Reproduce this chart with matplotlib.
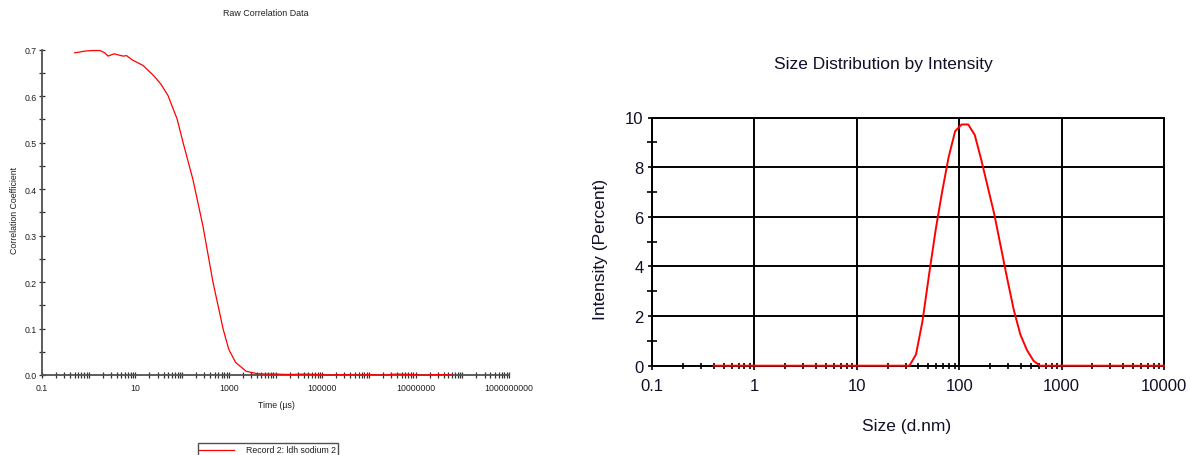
import matplotlib
matplotlib.use("Agg")
import matplotlib.pyplot as plt
from matplotlib.ticker import LogLocator, FixedLocator, MultipleLocator, NullFormatter
from matplotlib.patches import Rectangle
from matplotlib.lines import Line2D

plt.rcParams['font.family'] = ['Liberation Sans', 'DejaVu Sans']

# --- Raw correlation data (time in microseconds, correlation coefficient) ---
corr_time = [0.5, 0.86, 1.2, 1.74, 2.2, 2.6, 3.5, 4.5, 5.5, 6.5, 8.5, 14.5, 24.6,
             35, 50, 78, 105, 171, 280, 458, 760, 1000, 1400, 2350, 4000,
             6000, 1e4, 2e4, 4e4, 8e4, 1.5e5, 3e5, 6e5, 1e6, 2e6, 4e6, 8e6,
             1.5e7, 3e7, 6e7]
corr_coef = [0.693, 0.697, 0.698, 0.698, 0.693, 0.686, 0.691, 0.688, 0.686, 0.687,
             0.678, 0.666, 0.644, 0.626, 0.601, 0.551, 0.500, 0.420, 0.320, 0.200,
             0.098, 0.055, 0.027, 0.008, 0.003,
             0.002, 0.002, 0.001, 0.002, 0.001, 0.000, 0.001, 0.000, 0.001, 0.000,
             0.002, 0.001, 0.000, 0.001, 0.000]
corr_xticks = [0.1, 10, 1000, 100000, 10000000, 1000000000]
corr_xticklabels = ['0.1', '10', '1000', '100000', '10000000', '1000000000']
corr_yticks = [0.0, 0.1, 0.2, 0.3, 0.4, 0.5, 0.6, 0.7]
record_label = 'Record 2: ldh sodium 2'

# --- Size distribution by intensity (diameter nm, percent) ---
size_nm = [0.4, 32.67, 37.84, 43.82, 50.75, 58.77, 68.06, 78.82, 91.28, 105.7,
           122.4, 141.8, 164.2, 190.1, 220.2, 255.0, 295.3, 342.0, 396.1, 458.7,
           531.2, 615.1, 10000]
intensity = [0, 0, 0.45, 1.8, 3.66, 5.45, 7.0, 8.4, 9.45, 9.72,
             9.72, 9.3, 8.3, 7.2, 6.1, 4.79, 3.48, 2.23, 1.25, 0.63,
             0.2, 0, 0]
size_xticks = [0.1, 1, 10, 100, 1000, 10000]
size_xticklabels = ['0.1', '1', '10', '100', '1000', '10000']
size_yticks = [0, 2, 4, 6, 8, 10]

W, H = 1190, 456
fig = plt.figure(figsize=(W / 100, H / 100), dpi=100)


def fx(px):
    return px / W


def fy(py):
    return 1 - py / H


TEXT_L = '#202020'
TEXT_R = '#101028'

# ---------------- left panel ----------------
ax1 = fig.add_axes([fx(42), fy(376), fx(509) - fx(42), fy(50.6) - fy(376)])
ax1.plot(corr_time, corr_coef, color='#ff0000', lw=0.9, clip_on=False, zorder=3)
ax1.set_xscale('log')
ax1.set_xlim(0.1, 1e9)
ax1.set_ylim(0, 0.7)
for s in ('top', 'right'):
    ax1.spines[s].set_visible(False)
for s in ('left', 'bottom'):
    ax1.spines[s].set_color('#505050')
    ax1.spines[s].set_linewidth(1.3)
ax1.set_xticks(corr_xticks)
ax1.set_xticklabels(corr_xticklabels)
ax1.xaxis.set_minor_locator(LogLocator(base=10, subs=range(1, 10), numticks=200))
ax1.xaxis.set_minor_formatter(NullFormatter())
ax1.set_yticks(corr_yticks)
ax1.set_yticklabels([f'{v:.1f}' for v in corr_yticks])
ax1.yaxis.set_minor_locator(MultipleLocator(0.05))
ax1.tick_params(which='both', direction='inout', color='#303030', width=0.9,
                labelsize=6.3, labelcolor=TEXT_L)
ax1.tick_params(which='major', length=5, pad=1)
ax1.tick_params(which='minor', length=4)
ax1.tick_params(axis='x', which='major', pad=3)

fig.text(fx(266), fy(14), 'Raw Correlation Data', ha='center', va='center',
         fontsize=6.4, color=TEXT_L)
fig.text(fx(15), fy(211), 'Correlation Coefficient', ha='center', va='center',
         rotation=90, fontsize=6.3, color=TEXT_L)
fig.text(fx(276), fy(405), 'Time (µs)', ha='center', va='center',
         fontsize=6.3, color=TEXT_L)

# legend box
fig.add_artist(Rectangle((fx(197.5), fy(470)), fx(337.5) - fx(197.5), fy(443.5) - fy(470),
                         transform=fig.transFigure, facecolor='white',
                         edgecolor='#505050', lw=1.0))
fig.add_artist(Line2D([fx(199), fx(234)], [fy(451), fy(451)], transform=fig.transFigure,
                      color='#ff0000', lw=0.9))
fig.text(fx(245.5), fy(451), record_label, ha='left', va='center',
         fontsize=6.3, color=TEXT_L)

# ---------------- right panel ----------------
ax2 = fig.add_axes([fx(652), fy(366.7), fx(1164) - fx(652), fy(118.5) - fy(366.7)])
ax2.plot(size_nm, intensity, color='#ff0000', lw=1.4, zorder=4, clip_on=False)
ax2.set_xscale('log')
ax2.set_xlim(0.1, 10000)
ax2.set_ylim(0, 10)
for s in ax2.spines.values():
    s.set_color('black')
    s.set_linewidth(1.4)
ax2.set_xticks(size_xticks)
ax2.set_xticklabels(size_xticklabels)
ax2.xaxis.set_minor_locator(LogLocator(base=10, subs=range(2, 10), numticks=200))
ax2.xaxis.set_minor_formatter(NullFormatter())
ax2.set_yticks(size_yticks)
ax2.set_yticklabels([str(v) for v in size_yticks])
ax2.yaxis.set_minor_locator(FixedLocator([1, 3, 5, 7, 9]))
ax2.grid(True, which='major', color='black', lw=1.4)
ax2.tick_params(which='major', direction='out', length=3, width=1.2, color='black',
                labelsize=12, labelcolor=TEXT_R, pad=3)
ax2.tick_params(axis='x', which='major', pad=6)
ax2.tick_params(which='minor', direction='inout', color='black', width=1.2)
ax2.tick_params(axis='y', which='minor', length=7)
ax2.tick_params(axis='x', which='minor', length=5)

fig.text(fx(883), fy(64), 'Size Distribution by Intensity', ha='center', va='center',
         fontsize=12.5, color=TEXT_R)
fig.text(fx(601), fy(249), 'Intensity (Percent)', ha='center', va='center',
         rotation=90, fontsize=12.5, color=TEXT_R)
fig.text(fx(907), fy(426.7), 'Size (d.nm)', ha='center', va='center',
         fontsize=12.5, color=TEXT_R)

fig.savefig('out.png', dpi=100, facecolor='white')
